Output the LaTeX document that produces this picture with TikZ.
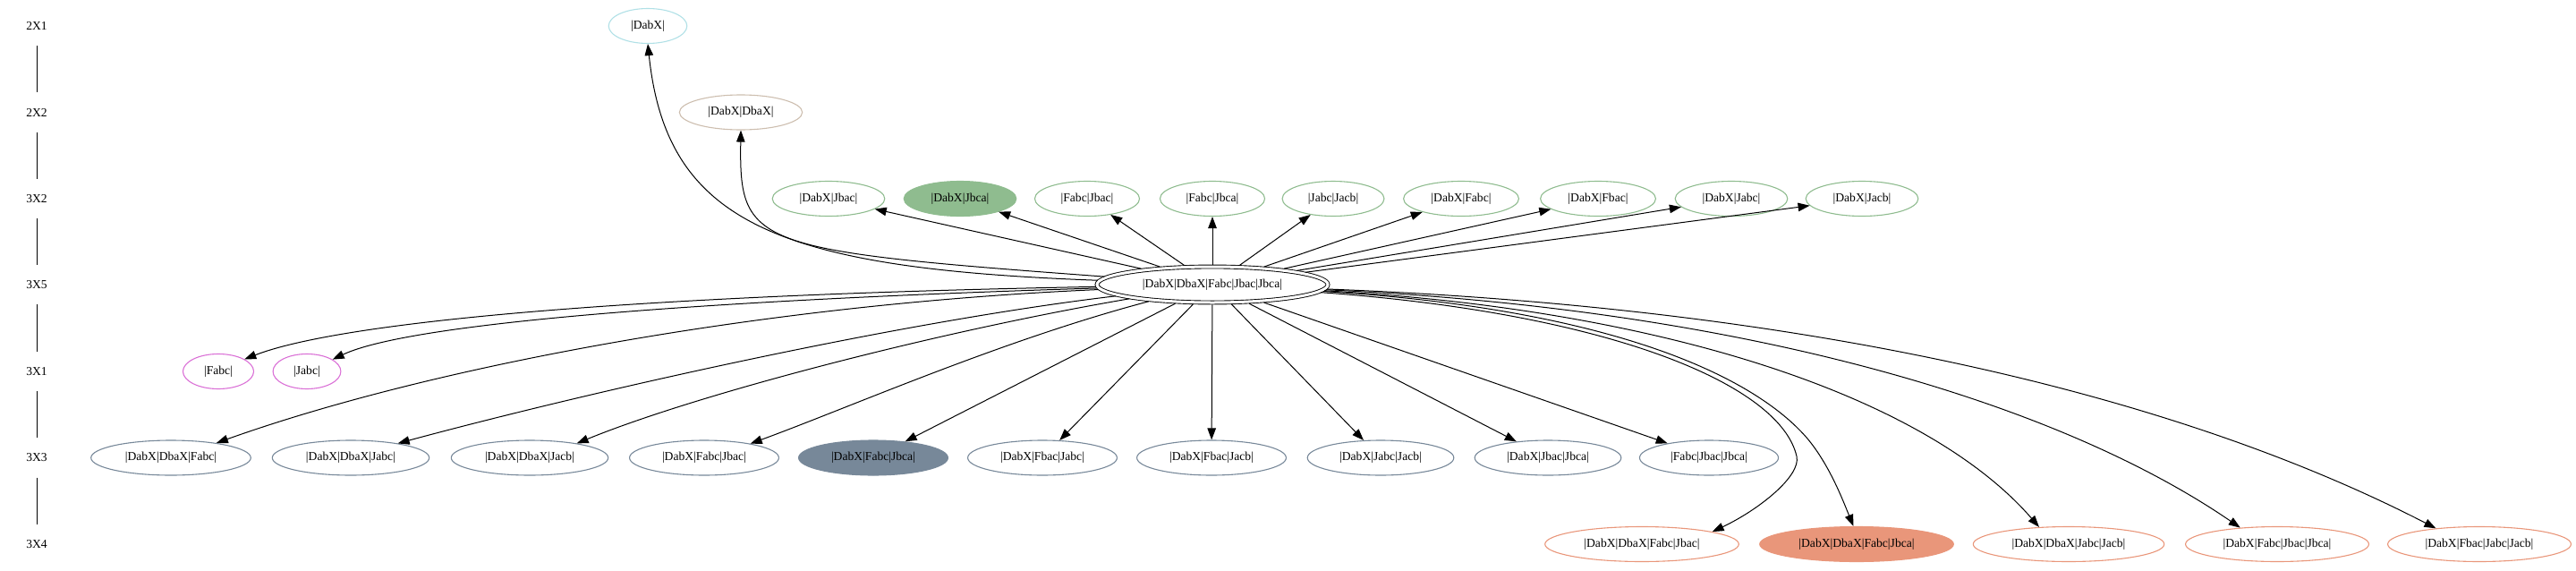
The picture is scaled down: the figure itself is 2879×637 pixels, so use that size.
\documentclass[tikz,border=0pt]{standalone}
\usepackage{fontspec}
\setmainfont{Liberation Serif}
\usetikzlibrary{shapes.geometric,arrows.meta}
\definecolor{pblue}{HTML}{B0E0E6}
\definecolor{tanc}{RGB}{205,190,175}
\definecolor{dsg}{HTML}{8FBC8F}
\definecolor{orch}{HTML}{DA70D6}
\definecolor{lsg}{HTML}{778899}
\definecolor{dsal}{HTML}{E9967A}
\begin{document}
\begin{tikzpicture}[x=1pt,y=-1pt,
  every node/.style={font=\fontsize{13.6}{16}\selectfont},
  nd/.style={ellipse,draw,line width=1.1pt,minimum height=39pt,inner xsep=12pt,inner ysep=2pt},
  c2x1/.style={nd,draw=pblue},
  c2x2/.style={nd,draw=tanc},
  c3x2/.style={nd,draw=dsg},
  c3x1/.style={nd,draw=orch},
  c3x3/.style={nd,draw=lsg},
  c3x4/.style={nd,draw=dsal},
  hub/.style={nd,double,double distance=3pt,line width=0.9pt,minimum width=258pt,minimum height=40pt,outer sep=2.4pt},
  rowlbl/.style={minimum height=44pt,inner sep=0pt},
  edge/.style={line width=1pt,-{Triangle[length=13pt,width=9.5pt]}},
  tick/.style={line width=0.9pt},
]
\useasboundingbox (0,0) rectangle (2879,637);
% row labels
\node[rowlbl] (r1) at (41,29) {2X1};
\node[rowlbl] (r2) at (41,125.5) {2X2};
\node[rowlbl] (r3) at (41,222) {3X2};
\node[rowlbl] (r4) at (41,318) {3X5};
\node[rowlbl] (r5) at (41,415) {3X1};
\node[rowlbl] (r6) at (41,511.5) {3X3};
\node[rowlbl] (r7) at (41,608) {3X4};
\draw[tick] (r1) -- (r2);
\draw[tick] (r2) -- (r3);
\draw[tick] (r3) -- (r4);
\draw[tick] (r4) -- (r5);
\draw[tick] (r5) -- (r6);
\draw[tick] (r6) -- (r7);
% nodes
\node[c2x1] (n1) at (724,29) {|DabX|};
\node[c2x2] (n2) at (828,125.5) {|DabX|DbaX|};
\node[c3x2] (u1) at (926,222) {|DabX|Jbac|};
\node[c3x2,fill=dsg] (u2) at (1073,222) {|DabX|Jbca|};
\node[c3x2] (u3) at (1215,222) {|Fabc|Jbac|};
\node[c3x2] (u4) at (1355,222) {|Fabc|Jbca|};
\node[c3x2] (u5) at (1490,222) {|Jabc|Jacb|};
\node[c3x2] (u6) at (1633,222) {|DabX|Fabc|};
\node[c3x2] (u7) at (1786,222) {|DabX|Fbac|};
\node[c3x2] (u8) at (1935,222) {|DabX|Jabc|};
\node[c3x2] (u9) at (2081,222) {|DabX|Jacb|};
\node[hub] (c) at (1355,318) {|DabX|DbaX|Fabc|Jbac|Jbca|};
\node[c3x1] (f1) at (244,415) {|Fabc|};
\node[c3x1] (f2) at (343,415) {|Jabc|};
\node[c3x3] (t1) at (191,511.5) {|DabX|DbaX|Fabc|};
\node[c3x3] (t2) at (392,511.5) {|DabX|DbaX|Jabc|};
\node[c3x3] (t3) at (592,511.5) {|DabX|DbaX|Jacb|};
\node[c3x3] (t4) at (787,511.5) {|DabX|Fabc|Jbac|};
\node[c3x3,fill=lsg] (t5) at (976,511.5) {|DabX|Fabc|Jbca|};
\node[c3x3] (t6) at (1165,511.5) {|DabX|Fbac|Jabc|};
\node[c3x3] (t7) at (1354,511.5) {|DabX|Fbac|Jacb|};
\node[c3x3] (t8) at (1543,511.5) {|DabX|Jabc|Jacb|};
\node[c3x3] (t9) at (1730,511.5) {|DabX|Jbac|Jbca|};
\node[c3x3] (t10) at (1910,511.5) {|Fabc|Jbac|Jbca|};
\node[c3x4] (s1) at (1835,608) {|DabX|DbaX|Fabc|Jbac|};
\node[c3x4,fill=dsal] (s2) at (2075,608) {|DabX|DbaX|Fabc|Jbca|};
\node[c3x4] (s3) at (2312,608) {|DabX|DbaX|Jabc|Jacb|};
\node[c3x4] (s4) at (2545,608) {|DabX|Fabc|Jbac|Jbca|};
\node[c3x4] (s5) at (2771,608) {|DabX|Fbac|Jabc|Jacb|};
% edges up
\draw[edge] (c) .. controls (870,300) and (745,250) .. (n1.south);
\draw[edge] (c) .. controls (840,280) and (826,275) .. (n2.south);
\foreach \t in {u1,u2,u3,u4,u5,u6,u7,u8,u9} \draw[edge] (c) -- (\t);
% edges left-down
\draw[edge] (c) .. controls (700,330) and (380,360) .. (f1.25);
\draw[edge] (c) .. controls (800,335) and (460,360) .. (f2.25);
\draw[edge] (c) .. controls (850,340) and (480,410) .. (t1.18);
\draw[edge] (c) .. controls (1000,360) and (650,440) .. (t2.17);
\draw[edge] (c) .. controls (1050,370) and (780,440) .. (t3.17);
\draw[edge] (c) .. controls (1120,380) and (950,455) .. (t4.17);
\foreach \t in {t5,t6,t7,t8,t9,t10} \draw[edge] (c) -- (\t);
% edges right-down
\draw[edge] (c) .. controls (1800,350) and (1990,430) .. (2008,510) .. controls (2013,532) and (1965,570) .. (s1.10);
\draw[edge] (c) .. controls (1800,345) and (1960,420) .. (2020,490) .. controls (2045,520) and (2060,560) .. (s2.100);
\draw[edge] (c) .. controls (1850,345) and (2150,440) .. (s3.150);
\draw[edge] (c) .. controls (1950,345) and (2300,450) .. (s4.156);
\draw[edge] (c) .. controls (2050,345) and (2450,450) .. (s5.160);
\end{tikzpicture}
\end{document}
